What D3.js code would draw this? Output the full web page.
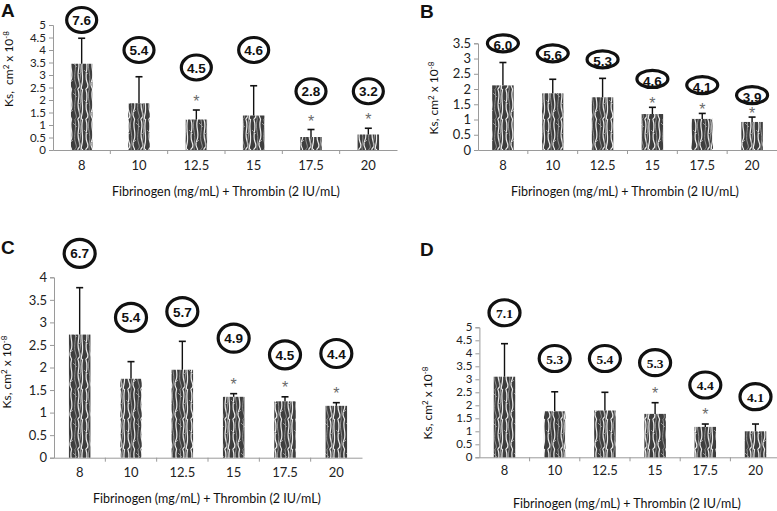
<!DOCTYPE html>
<html><head><meta charset="utf-8">
<script src="https://cdn.jsdelivr.net/npm/d3@7"></script>
<style>body{margin:0;background:#fff}svg{display:block}</style>
</head><body>
<svg id="c" width="777" height="511"></svg>
<script>
// ---- data ----
const categories = ["8","10","12.5","15","17.5","20"];
const meansA = [3.45,1.87,1.22,1.38,0.52,0.62];
const sdA    = [1.02,1.06,0.38,1.19,0.30,0.25];
const labelsA = ["7.6","5.4","4.5","4.6","2.8","3.2"];
const labelLevelA = [5.2,4.0,3.3,4.0,2.35,2.35];
const sigA = [0,0,1,0,1,1];

const meansB = [2.12,1.86,1.73,1.18,1.02,0.92];
const sdB    = [0.75,0.46,0.62,0.22,0.18,0.16];
const labelsB = ["6.0","5.6","5.3","4.6","4.1","3.9"];
const labelLevelB = [3.5,3.17,2.97,2.33,2.13,1.8];
const sigB = [0,0,0,1,1,1];

const meansC = [2.73,1.75,1.95,1.35,1.25,1.15];
const sdC    = [1.04,0.38,0.63,0.07,0.10,0.07];
const labelsC = ["6.7","5.4","5.7","4.9","4.5","4.4"];
const labelLevelC = [4.53,3.11,3.24,2.65,2.28,2.31];
const sigC = [0,0,0,1,1,1];

const meansD = [3.10,1.77,1.80,1.67,1.17,1.00];
const sdD    = [1.27,0.75,0.70,0.43,0.11,0.28];
const labelsD = ["7.1","5.3","5.4","5.3","4.4","4.1"];
const labelLevelD = [5.56,3.8,3.8,3.64,2.78,2.33];
const sigD = [0,0,0,1,1,0];

const yMaxes = {A:5, B:3.5, C:4, D:5};
const xTitle = "Fibrinogen (mg/mL) + Thrombin (2 IU/mL)";

// ---- layout ----
const panels = [
  {key:"A", means:meansA, sd:sdA, labels:labelsA, lvl:labelLevelA, sig:sigA,
   x:[53,397], y:[150,25], letter:[1,17], yt:[13,69], xt:[226,196], lblPad:11, rx:15, ry:12.5, font:"Arial, Liberation Sans, sans-serif", astOff:3, textDy:5, ytSpace:"\u00a0 ", tickFs:11.5},
  {key:"B", means:meansB, sd:sdB, labels:labelsB, lvl:labelLevelB, sig:sigB,
   x:[478,777], y:[150,43.3], letter:[420,18], yt:[438,98], xt:[625,196], lblPad:11, rx:15.5, ry:8.5, font:"Arial, Liberation Sans, sans-serif", astOff:-2, textDy:7, ytSpace:" ", tickFs:13},
  {key:"C", means:meansC, sd:sdC, labels:labelsC, lvl:labelLevelC, sig:sigC,
   x:[54,362], y:[457.7,277.3], letter:[1,254], yt:[11,372], xt:[207,503], lblPad:10, rx:15.5, ry:14, font:"Arial, Liberation Sans, sans-serif", astOff:4, textDy:5, ytSpace:" ", tickFs:13},
  {key:"D", means:meansD, sd:sdD, labels:labelsD, lvl:labelLevelD, sig:sigD,
   x:[479.4,780.6], y:[457.3,327.3], letter:[420,256], yt:[432,403], xt:[627,508], lblPad:8.5, rx:15.5, ry:13, font:"Liberation Serif, Times New Roman, serif", astOff:4, textDy:5, ytSpace:" ", tickFs:11.5}
];

const svg = d3.select("#c");
const defs = svg.append("defs");
// zebra-like texture
const pat = defs.append("pattern").attr("id","zebra").attr("patternUnits","userSpaceOnUse")
  .attr("width",21).attr("height",30);
pat.append("rect").attr("width",21).attr("height",30).attr("fill","#3e3e3e");
const light = [
  "M2,0 C5,8 0,15 3,22 S1,28 2,30",
  "M8.5,0 C6,7 11,13 8,20 S9,27 8.5,30",
  "M15,0 C18,6 13,13 16,21 S14,27 15,30",
  "M19.5,0 C17.5,9 21,16 19,24 S20,28 19.5,30"
];
const mid = [
  "M5,0 C3,9 7,14 5.5,22 S6,28 5,30",
  "M12,0 C14,7 10,16 12.5,23 S11,28 12,30",
  "M17.5,0 C16,6 19,12 17,19 S18,27 17.5,30",
  "M0,10 L4,14 M10,3 L14,7 M6,24 L10,20 M15,15 L19,11"
];
light.forEach(d=>pat.append("path").attr("d",d).attr("fill","none").attr("stroke","#ececec").attr("stroke-width",1.2));
mid.forEach(d=>pat.append("path").attr("d",d).attr("fill","none").attr("stroke","#9c9c9c").attr("stroke-width",0.9));

const sansFont = "Lato, 'Open Sans', sans-serif";
const fmt = d3.format("~g");

panels.forEach(p => {
  const g = svg.append("g");
  const x = d3.scaleBand().domain(categories).range(p.x).paddingInner(0).paddingOuter(0);
  const y = d3.scaleLinear().domain([0, yMaxes[p.key]]).range(p.y);
  const bw = 21.5;
  const cx = c => x(c) + x.bandwidth()/2;

  // y axis
  const ya = g.append("g").attr("transform",`translate(${p.x[0]},0)`)
    .call(d3.axisLeft(y).tickValues(d3.range(0, yMaxes[p.key]+0.001, 0.5)).tickFormat(fmt).tickSize(4).tickPadding(3));
  ya.select(".domain").attr("stroke","#9a9a9a");
  ya.selectAll(".tick line").attr("stroke","#9a9a9a");
  ya.selectAll("text").attr("font-family",sansFont).attr("font-size",p.tickFs).attr("fill","#222");

  // x axis labels
  const xa = g.append("g").attr("transform",`translate(0,${p.y[0]})`)
    .call(d3.axisBottom(x).tickSize(0).tickPadding(p.lblPad));
  xa.select(".domain").attr("stroke","#9a9a9a");
  xa.selectAll("text").attr("font-family",sansFont).attr("font-size",13).attr("fill","#222");
  // boundary ticks
  g.selectAll(".bt").data(categories.slice(1)).join("line")
    .attr("x1",c=>x(c)).attr("x2",c=>x(c)).attr("y1",p.y[0]).attr("y2",p.y[0]+4)
    .attr("stroke","#9a9a9a");

  const data = categories.map((c,i)=>({c, m:p.means[i], s:p.sd[i], l:p.labels[i], lv:p.lvl[i], sig:p.sig[i]}));

  // bars
  g.selectAll(".bar").data(data).join("rect")
    .attr("x",d=>cx(d.c)-bw/2).attr("width",bw)
    .attr("y",d=>y(d.m)).attr("height",d=>y(0)-y(d.m))
    .attr("fill","url(#zebra)");
  // error bars
  g.selectAll(".eb").data(data).join("line")
    .attr("x1",d=>cx(d.c)).attr("x2",d=>cx(d.c))
    .attr("y1",d=>y(d.m)).attr("y2",d=>y(d.m+d.s))
    .attr("stroke","#111").attr("stroke-width",1.4);
  g.selectAll(".cap").data(data).join("line")
    .attr("x1",d=>cx(d.c)-3.5).attr("x2",d=>cx(d.c)+3.5)
    .attr("y1",d=>y(d.m+d.s)).attr("y2",d=>y(d.m+d.s))
    .attr("stroke","#111").attr("stroke-width",1.6);
  // significance asterisks
  g.selectAll(".ast").data(data.filter(d=>d.sig)).join("text")
    .attr("x",d=>cx(d.c)).attr("y",d=>y(d.m+d.s)-p.astOff)
    .attr("text-anchor","middle").attr("font-family","Arial, Liberation Sans, sans-serif")
    .attr("font-size",16).attr("fill","#6a6a6a").text("*");
  // circled labels
  g.selectAll(".circ").data(data).join("ellipse")
    .attr("cx",d=>cx(d.c)).attr("cy",d=>y(d.lv))
    .attr("rx",p.rx).attr("ry",p.ry)
    .attr("fill","#fff").attr("stroke","#111").attr("stroke-width",3.2);
  g.selectAll(".clab").data(data).join("text")
    .attr("x",d=>cx(d.c)).attr("y",d=>y(d.lv)+p.textDy)
    .attr("text-anchor","middle").attr("font-family",p.font).attr("font-weight","bold")
    .attr("font-size",13.5).attr("fill","#111").text(d=>d.l);

  // panel letter
  g.append("text").attr("x",p.letter[0]).attr("y",p.letter[1])
    .attr("font-family","Arial, Liberation Sans, sans-serif").attr("font-weight","bold")
    .attr("font-size",19).attr("fill","#111").text(p.key);

  // y title
  const yt = g.append("text").attr("transform",`translate(${p.yt[0]},${p.yt[1]}) rotate(-90)`)
    .attr("text-anchor","middle").attr("font-family",sansFont).attr("font-size",12).attr("fill","#111");
  yt.append("tspan").text("Ks," + p.ytSpace + "cm");
  yt.append("tspan").attr("dy",-4).attr("font-size",8).text("2");
  yt.append("tspan").attr("dy",4).text(" x 10");
  yt.append("tspan").attr("dy",-4).attr("font-size",8).text("-8");

  // x title
  g.append("text").attr("x",p.xt[0]).attr("y",p.xt[1]).attr("text-anchor","middle")
    .attr("font-family",sansFont).attr("font-size",12.5).attr("fill","#111").text(xTitle);
});
</script>
</body></html>
